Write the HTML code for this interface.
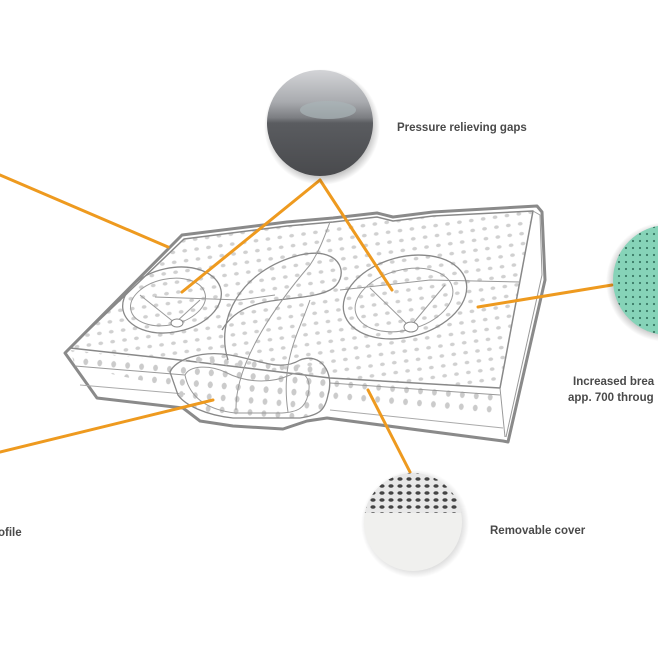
<!DOCTYPE html>
<html><head><meta charset="utf-8"><style>
html,body{margin:0;padding:0;background:#fff;}
svg{display:block}
text{font-family:"Liberation Sans",sans-serif;font-weight:bold;fill:#4a4a4a;font-size:11.5px}
</style></head><body>
<svg width="658" height="657" viewBox="0 0 658 657" xmlns="http://www.w3.org/2000/svg">
<defs>
<pattern id="dots" width="12" height="10" patternUnits="userSpaceOnUse" patternTransform="rotate(-8)">
<ellipse cx="4" cy="4" rx="2.4" ry="1.8" fill="#d0d0d0"/>
</pattern>
<pattern id="dots2" width="14" height="12" patternUnits="userSpaceOnUse" patternTransform="rotate(5)">
<ellipse cx="5" cy="5" rx="2.4" ry="3.2" fill="#cbcbcb"/>
</pattern>
<radialGradient id="sh" cx="50%" cy="50%" r="50%">
<stop offset="80%" stop-color="#000" stop-opacity="0.3"/>
<stop offset="100%" stop-color="#000" stop-opacity="0"/>
</radialGradient>
<linearGradient id="gray" x1="0" y1="0" x2="0" y2="1">
<stop offset="0" stop-color="#d3d4d7"/><stop offset="0.3" stop-color="#a9abaf"/><stop offset="0.45" stop-color="#7c7e82"/><stop offset="0.5" stop-color="#5a5c60"/><stop offset="1" stop-color="#494a4d"/>
</linearGradient>
<pattern id="teal" width="7" height="7" patternUnits="userSpaceOnUse">
<rect width="7" height="7" fill="#86d3b8"/><circle cx="3" cy="3" r="1.1" fill="#3a7a66"/>
</pattern>
<pattern id="mesh" width="9" height="7" patternUnits="userSpaceOnUse">
<rect width="9" height="7" fill="#e8e8e8"/><ellipse cx="4" cy="3" rx="2.6" ry="1.8" fill="#444"/>
</pattern>
</defs>

<g fill="none" stroke="#777" stroke-linejoin="round">
<path d="M182,235 L287,222 L333,218 L377,213 L393,217 L433,212 L537,206 L542,212 L545,280 L508,442 L503,441 L327,418 L307,421 L283,429 L233,426 L200,421 L183,408 L97,398 L65,353 Z" fill="#fff" stroke-width="3" stroke="#8a8a8a"/>
<path d="M184,239 L287,226 L333,222 L377,217 L393,221 L433,216 L533,211 L500,388 L330,378 L305,375 L180,360 L70,348 Z" fill="url(#dots)" stroke="#888" stroke-width="1.5"/>
<path d="M70,350 L180,362 L305,377 L500,390 L500,415 L330,400 L185,390 L75,366 Z" fill="url(#dots2)" stroke="none"/>
<path d="M75,366 L185,375" stroke="#999"/>
<path d="M330,383 L500,395" stroke="#999"/>
<path d="M80,385 L185,394" stroke="#aaa"/>
<path d="M330,410 L503,428" stroke="#aaa"/>
<path d="M533,211 L540,215 L542,275 L506,437" stroke="#999"/>
<path d="M500,388 L505,437" stroke="#999"/>
<path d="M170,372 C175,360 200,350 230,355 C260,360 280,372 300,360 C320,352 335,372 328,395 C325,410 320,415 300,418 L233,418 C205,415 185,405 178,395 Z" fill="url(#dots2)" stroke="#888" stroke-width="1.3"/>
<path d="M185,375 C190,365 210,365 225,372 C250,385 275,382 290,375 C305,368 312,380 308,395 C305,408 298,412 282,413 L235,413 C210,410 190,400 185,375 Z" stroke="#999"/>
<path d="M228,360 C215,320 240,270 300,255 C345,245 350,280 330,290 C300,305 245,290 222,330" stroke="#888" stroke-width="1.3"/>
<path d="M236,410 C235,360 280,300 310,265 C320,250 325,235 330,222" stroke="#999"/>
<path d="M288,412 C280,360 300,330 310,300" stroke="#999"/>
<path d="M155,297 L240,300 L275,295" stroke="#999"/>
<path d="M340,290 L430,280 L520,282" stroke="#999"/>
<ellipse cx="172" cy="300" rx="50" ry="32" transform="rotate(-12 172 300)" stroke="#888" stroke-width="1.3"/>
<ellipse cx="168" cy="302" rx="38" ry="23" transform="rotate(-12 168 302)" stroke="#999"/>
<path d="M140,295 L175,323 L200,300" stroke="#999"/>
<ellipse cx="177" cy="323" rx="6" ry="4" fill="#fff" stroke="#888"/>
<ellipse cx="405" cy="297" rx="63" ry="40" transform="rotate(-15 405 297)" stroke="#888" stroke-width="1.3"/>
<ellipse cx="404" cy="300" rx="50" ry="30" transform="rotate(-15 404 300)" stroke="#999"/>
<path d="M370,288 L410,327 L445,285" stroke="#999"/>
<ellipse cx="411" cy="327" rx="7" ry="5" fill="#fff" stroke="#888"/>
</g>

<g stroke="#ee9a1f" stroke-width="3" fill="none" stroke-linecap="round">
<path d="M0,175 L168,247"/>
<path d="M320,180 L182,292"/>
<path d="M320,180 L392,290"/>
<path d="M478,307 L612,285"/>
<path d="M213,400 L0,452"/>
<path d="M368,390 L410,472"/>
</g>

<circle cx="322" cy="127" r="58" fill="url(#sh)"/>
<circle cx="320" cy="123" r="53" fill="url(#gray)"/>
<ellipse cx="328" cy="110" rx="28" ry="9" fill="#aab5b8" opacity="0.7"/>

<circle cx="666" cy="282" r="60" fill="url(#sh)"/>
<circle cx="668" cy="280" r="55" fill="url(#teal)"/>

<circle cx="415" cy="524" r="54" fill="url(#sh)" opacity="0.6"/>
<clipPath id="bc"><circle cx="413" cy="522" r="49"/></clipPath>
<g clip-path="url(#bc)">
<rect x="360" y="470" width="110" height="110" fill="#f0f0ee"/>
<rect x="360" y="470" width="110" height="43" fill="url(#mesh)"/>
</g>

<text x="397" y="131">Pressure relieving gaps</text>
<text x="573" y="385">Increased brea</text>
<text x="568" y="401">app. 700 throug</text>
<text x="490" y="534">Removable cover</text>
<text x="-2" y="536">ofile</text>
</svg>
</body></html>
